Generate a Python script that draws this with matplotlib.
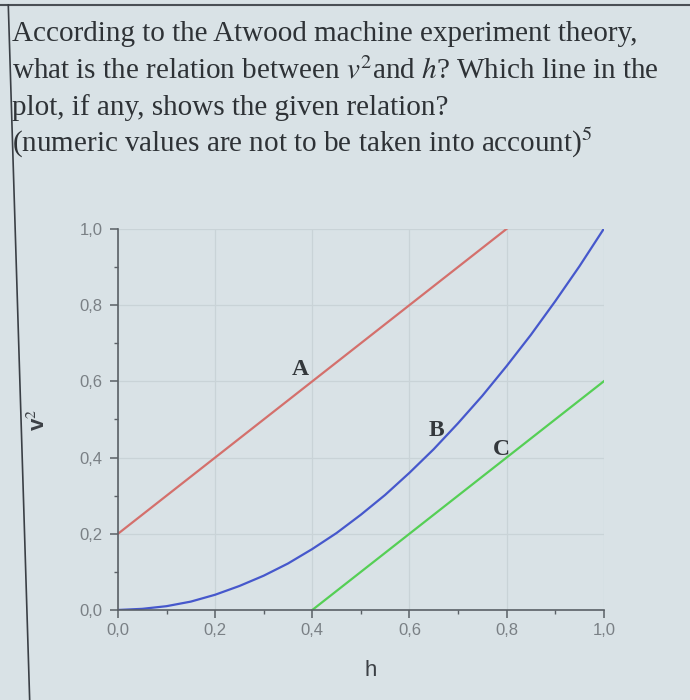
import matplotlib
matplotlib.use('Agg')
from matplotlib import pyplot as plt
from matplotlib.lines import Line2D
from matplotlib.ticker import MultipleLocator, FuncFormatter

h_a = [0.0, 0.8]
v2_a = [0.2, 1.0]

h_b = [0.0, 0.05, 0.1, 0.15, 0.2, 0.25, 0.3, 0.35, 0.4, 0.45, 0.5,
       0.55, 0.6, 0.65, 0.7, 0.75, 0.8, 0.85, 0.9, 0.95, 1.0]
v2_b = [0.0, 0.003, 0.01, 0.022, 0.04, 0.063, 0.09, 0.122, 0.16, 0.202, 0.25,
        0.302, 0.36, 0.422, 0.49, 0.562, 0.64, 0.722, 0.81, 0.902, 1.0]

h_c = [0.4, 1.0]
v2_c = [0.0, 0.6]

curve_names = ['A', 'B', 'C']
name_pos = [(0.375, 0.63), (0.655, 0.47), (0.79, 0.42)]

question = [
    'According to the Atwood machine experiment theory,',
    r'what is the relation between $v^2$and $h$? Which line in the',
    'plot, if any, shows the given relation?',
    r'(numeric values are not to be taken into account)$^{\mathit{5}}$',
]

plt.rcParams['mathtext.fontset'] = 'stix'
bg = '#d9e2e6'

fig = plt.figure(figsize=(6.9, 7.0), dpi=100, facecolor=bg)

# frame of the photographed page
fig.add_artist(Line2D([0, 1], [0.993, 0.993], color='#4a4f55', lw=1.5, transform=fig.transFigure))
fig.add_artist(Line2D([0.012, 0.043], [0.993, 0.0], color='#3a3f45', lw=1.2, transform=fig.transFigure))

# question text
y0 = 0.941
for i, line in enumerate(question):
    fig.text(12 / 690, y0 - i * 0.0525, line, fontsize=21, family='Liberation Serif',
             color='#2e3236', va='baseline', ha='left')

ax = fig.add_axes([0.171, 0.1286, 0.704, 0.5444])
ax.set_facecolor(bg)

ax.plot(h_a, v2_a, color='#d4706c', lw=1.6)
ax.plot(h_b, v2_b, color='#4658cc', lw=1.6)
ax.plot(h_c, v2_c, color='#55cf55', lw=1.6)

for name, (px, py) in zip(curve_names, name_pos):
    ax.text(px, py, name, fontsize=17, family='Liberation Serif', fontweight='bold',
            color='#34383c', ha='center', va='center')

ax.set_xlim(0, 1.0)
ax.set_ylim(0, 1.0)
ax.xaxis.set_major_locator(MultipleLocator(0.2))
ax.yaxis.set_major_locator(MultipleLocator(0.2))
ax.xaxis.set_minor_locator(MultipleLocator(0.1))
ax.yaxis.set_minor_locator(MultipleLocator(0.1))
fmt = FuncFormatter(lambda v, p: ('%.1f' % v).replace('.', ','))
ax.xaxis.set_major_formatter(fmt)
ax.yaxis.set_major_formatter(fmt)

ax.grid(True, which='major', color='#c9d3d7', lw=0.9)
ax.set_axisbelow(True)
for s in ['top', 'right']:
    ax.spines[s].set_visible(False)
for s in ['left', 'bottom']:
    ax.spines[s].set_color('#5a6066')
    ax.spines[s].set_linewidth(1.2)

ax.tick_params(which='major', length=6, width=1.1, color='#5a6066',
               labelsize=12, labelcolor='#7a8085')
ax.tick_params(axis='y', which='major', pad=5)
ax.tick_params(which='minor', length=3, width=1.0, color='#5a6066')
for lab in ax.get_xticklabels() + ax.get_yticklabels():
    lab.set_family('Liberation Sans')

ax.set_xlabel('h', fontsize=16, family='Liberation Sans', color='#3c4045')
ax.xaxis.set_label_coords(0.52, -0.13)
ax.set_ylabel(r'v$^2$', fontsize=16, family='Liberation Sans', color='#3c4045',
              fontweight='bold')
ax.yaxis.set_label_coords(-0.14, 0.5)

plt.savefig('out.png', facecolor=bg)
